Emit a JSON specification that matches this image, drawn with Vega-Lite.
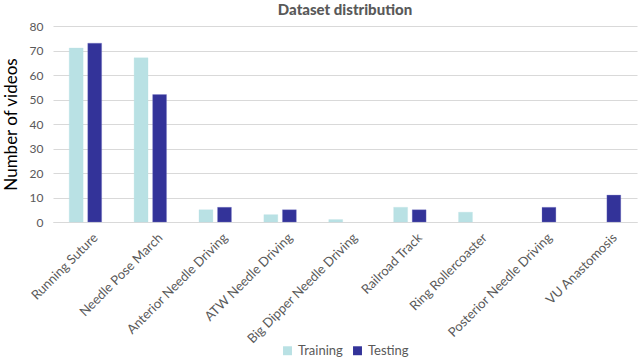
{
  "$schema": "https://vega.github.io/schema/vega-lite/v6.json",
  "autosize": {"type": "none"},
  "padding": {"left": 53, "top": 26, "right": 3, "bottom": 137},
  "width": 584,
  "height": 196,
  "background": "white",
  "title": {"text": "Dataset distribution", "font": "Lato", "fontSize": 15, "fontWeight": 900, "color": "#595959", "offset": 2, "anchor": "middle"},
  "config": {"view": {"stroke": null}, "font": "Lato"},
  "data": {"values": [
    {"task": "Running Suture", "set": "Training", "n": 71},
    {"task": "Running Suture", "set": "Testing", "n": 73},
    {"task": "Needle Pose March", "set": "Training", "n": 67},
    {"task": "Needle Pose March", "set": "Testing", "n": 52},
    {"task": "Anterior Needle Driving", "set": "Training", "n": 5},
    {"task": "Anterior Needle Driving", "set": "Testing", "n": 6},
    {"task": "ATW Needle Driving", "set": "Training", "n": 3},
    {"task": "ATW Needle Driving", "set": "Testing", "n": 5},
    {"task": "Big Dipper Needle Driving", "set": "Training", "n": 1},
    {"task": "Big Dipper Needle Driving", "set": "Testing", "n": 0},
    {"task": "Railroad Track", "set": "Training", "n": 6},
    {"task": "Railroad Track", "set": "Testing", "n": 5},
    {"task": "Ring Rollercoaster", "set": "Training", "n": 4},
    {"task": "Ring Rollercoaster", "set": "Testing", "n": 0},
    {"task": "Posterior Needle Driving", "set": "Training", "n": 0},
    {"task": "Posterior Needle Driving", "set": "Testing", "n": 6},
    {"task": "VU Anastomosis", "set": "Training", "n": 0},
    {"task": "VU Anastomosis", "set": "Testing", "n": 11}
  ]},
  "mark": {"type": "bar", "strokeWidth": 0.6, "strokeOpacity": 0.5},
  "encoding": {
    "x": {
      "field": "task", "type": "nominal", "sort": null,
      "scale": {"paddingInner": 0.5, "paddingOuter": 0.25},
      "axis": {"title": null, "labelAngle": -45, "labelFontSize": 13, "labelColor": "#595959", "ticks": false, "domainColor": "#d9d9d9", "labelPadding": 9, "labelOffset": 6, "labelLimit": 200}
    },
    "xOffset": {"field": "set", "type": "nominal", "sort": ["Training", "Testing"], "scale": {"paddingInner": 0.25}},
    "y": {
      "field": "n", "type": "quantitative",
      "scale": {"domain": [0, 80]},
      "axis": {"title": "Number of videos", "titleFontSize": 17, "titleFontWeight": "normal", "titleColor": "#000000", "titlePadding": 9, "labelFontSize": 12, "labelColor": "#595959", "ticks": false, "domain": false, "gridColor": "#d9d9d9", "tickCount": 8, "labelPadding": 10}
    },
    "color": {
      "field": "set", "type": "nominal", "sort": ["Training", "Testing"],
      "scale": {"domain": ["Training", "Testing"], "range": ["#B9E1E4", "#333399"]},
      "legend": {"title": null, "orient": "none", "legendX": 228, "legendY": 318, "direction": "horizontal", "symbolType": "square", "symbolSize": 80, "labelFontSize": 13, "labelColor": "#595959", "columnPadding": 8, "symbolStrokeWidth": 0}
    },
    "stroke": {"condition": {"test": "datum.n == 0", "value": null}, "field": "set", "type": "nominal", "scale": {"domain": ["Training", "Testing"], "range": ["#B9E1E4", "#8080cc"]}, "legend": null}
  }
}
